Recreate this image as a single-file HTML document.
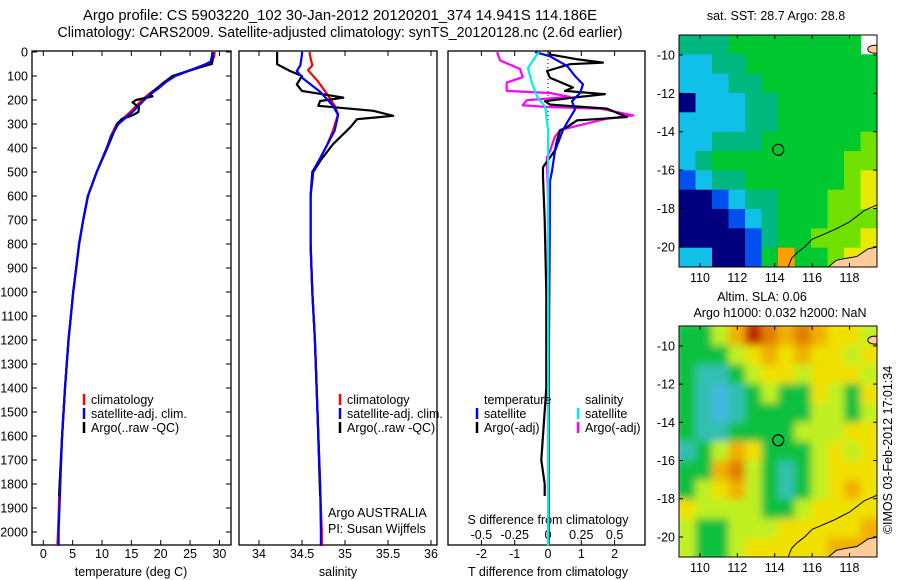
<!DOCTYPE html>
<html><head><meta charset="utf-8"><style>
html,body{margin:0;padding:0;background:#fff;}
svg{display:block;font-family:"Liberation Sans",sans-serif;}
text{font-size:12.5px;fill:#000;}
</style></head><body>
<svg id="fig" width="900" height="580" viewBox="0 0 900 580">
<defs>
<clipPath id="cpSST"><rect x="679" y="35" width="198" height="232"/></clipPath>
<clipPath id="cpSLA"><rect x="679" y="326" width="198" height="231"/></clipPath>
<filter id="blur" x="-10%" y="-10%" width="120%" height="120%"><feGaussianBlur stdDeviation="4"/></filter>
</defs>
<text x="340" y="20" text-anchor="middle" style="font-size:14.5px" textLength="514" lengthAdjust="spacingAndGlyphs">Argo profile: CS 5903220_102 30-Jan-2012 20120201_374 14.941S 114.186E</text>
<text x="340" y="37" text-anchor="middle" style="font-size:14.5px" textLength="565" lengthAdjust="spacingAndGlyphs">Climatology: CARS2009. Satellite-adjusted climatology: synTS_20120128.nc (2.6d earlier)</text>
<text x="776" y="20" text-anchor="middle">sat. SST: 28.7 Argo: 28.8</text>
<text x="762" y="301" text-anchor="middle">Altim. SLA: 0.06</text>
<text x="780" y="317" text-anchor="middle">Argo h1000: 0.032 h2000: NaN</text>
<text transform="translate(892,450) rotate(-90)" text-anchor="middle">©IMOS 03-Feb-2012 17:01:34</text>
<g id="plots"></g>
</svg>
<script>
// ---- depth axis ----
const depthTicks=[0,100,200,300,400,500,600,700,800,900,1000,1100,1200,1300,1400,1500,1600,1700,1800,1900,2000];
// ---- temperature panel ----
const tempTicks=[0,5,10,15,20,25,30];
const tClimDepth=[0,20,40,50,75,100,125,150,175,200,250,300,350,400,500,600,700,800,900,1000,1100,1200,1400,1600,1800,2000,2058];
const tClim=[29.2,29.1,28.6,27.9,25,22.1,20.6,19.4,18,16.8,14.8,12.5,11.5,10.8,9.1,7.6,6.8,6.1,5.6,5.1,4.7,4.3,3.7,3.2,2.8,2.5,2.4];
const tSat=[28.8,28.7,28.5,27.7,25.2,22.5,20.9,19.7,18.3,17.2,15.2,12.8,11.6,10.8,9.1,7.6,6.8,6.1,5.6,5.1,4.7,4.3,3.7,3.2,2.9,2.6,2.6];
const tArgoDepth=[0,20,40,50,60,100,150,175,185,200,210,230,250,265,280,300,400,500,600,700,800,1000,1200,1400,1600,1850];
const tArgo=[28.9,28.9,28.8,28.7,27.2,22,19.4,18.2,18.6,15.8,15.2,16.3,16.2,15.1,13.3,12.6,10.9,9.1,7.6,6.8,6.1,5.1,4.3,3.7,3.2,2.7];
// ---- salinity panel ----
const salTicks=[34,34.5,35,35.5,36];
const sClimDepth=[0,10,56,76,120,180,224,258,327,389,450,500,600,800,1000,1200,1500,1800,2000,2058];
const sClim=[34.59,34.59,34.62,34.57,34.68,34.8,34.88,34.92,34.86,34.79,34.7,34.62,34.6,34.6,34.62,34.65,34.68,34.71,34.73,34.73];
const sSatDepth=[0,10,56,79,110,166,224,262,327,389,450,500,600,800,1000,1200,1500,1800,2000,2058];
const sSat=[34.5,34.5,34.48,34.44,34.51,34.71,34.86,34.92,34.88,34.79,34.7,34.62,34.6,34.6,34.62,34.65,34.68,34.71,34.72,34.72];
const sArgoDepth=[0,51,79,100,135,162,190,204,224,245,266,280,314,384,450,500,600,800,1000,1200,1500,1850];
const sArgo=[34.21,34.21,34.36,34.5,34.44,34.5,34.98,34.71,34.69,35.33,35.56,35.14,35.06,34.86,34.72,34.63,34.6,34.6,34.62,34.65,34.68,34.71];
// ---- difference panel ----
const dtTicks=[-2,-1,0,1,2];
const dsTicks=[-0.5,-0.25,0,0.25,0.5];
const dtSatDepth=[0,18,58,100,135,171,205,240,288,325,412,496,538,800,1200,1600,2000,2058];
const dtSat=[-0.39,0.06,0.57,0.81,1.05,0.96,0.72,0.81,0.6,0.45,0.21,0.12,0.06,0.05,0.03,0.02,0.02,0.02];
const dtArgoDepth=[0,10,31,44,51,79,107,148,162,176,190,205,219,236,271,278,285,313,327,368,410,480,521,700,1000,1400,1700,1800,1850];
const dtArgo=[0.06,0.06,0.9,1.65,0.66,-0.03,0.06,0.75,0.51,1.71,0.75,-0.09,0.06,1.77,2.37,1.65,0.87,0.57,0.36,0.27,0.21,-0.15,-0.15,-0.1,-0.05,-0.05,-0.2,-0.1,-0.1];
const dsSatDepth=[0,4,33,67,130,187,229,325,600,1000,1500,2000,2058];
const dsSat=[-0.075,-0.075,-0.11,-0.15,-0.12,-0.08,-0.02,0,0,0,0,0,0];
const dsArgoDepth=[0,4,35,71,105,127,162,171,187,201,222,229,236,264,278,325,354,412,440,600,900,1200,1500,1850];
const dsArgo=[-0.38,-0.38,-0.36,-0.21,-0.19,-0.31,-0.31,0.015,0.165,-0.16,-0.19,0,0.39,0.64,0.44,0.09,0.05,0.015,-0.01,0,0,0,0,0];
// ---- maps ----
const lonTicks=[110,112,114,116,118];
const latTicks=[-10,-12,-14,-16,-18,-20];
const argoLon=114.186, argoLat=-14.941;
const sstRows=["TTTGGGGGGGG.","CCTTGGGGGGGG","CCCTTGGGGGGG","NCCCTTGGGGGG","CCCCTTGGGGGG","CCTTTGGGGGGL","CTGGGGGGGGLL","BCTTGGGGGGLY","NNBCTTGGGLLY","NNNBCTGGGLLL","NNNNBTGGLLLY","CCNNBGOGGLYY"];
const slaRows=["ggyorOoOoYYy","gggyYoYoYYyY","gccgyYYyYYYy","gclcgyggYygY","gclcggggyygy","gccggggyyyYY","cgyoYgggyYyY","ggoOygcgyYYY","gyYoygcgyYoY","YyyyyggyYYYY","yggyyyYYYYYo","yggyYYYYYooo"];
const coastLon=[119.5,118.8,118,117.2,116.5,116,115.6,115.2,114.9,114.7];
const coastLat=[-17.8,-18.1,-18.7,-19.1,-19.4,-19.6,-20.0,-20.3,-20.6,-21.1];
const landLon=[116.8,117.3,117.8,118.4,119.0,119.5,119.5];
const landLat=[-21.1,-20.7,-20.6,-20.5,-20.1,-20.0,-21.1];

const NS='http://www.w3.org/2000/svg';
const root=document.getElementById('plots');
function mk(tag,attrs,parent){const e=document.createElementNS(NS,tag);for(const k in attrs)e.setAttribute(k,attrs[k]);(parent||root).appendChild(e);return e;}
function txt(x,y,s,anchor,parent){const t=mk('text',{x:x,y:y,'text-anchor':anchor||'middle'},parent);t.textContent=s;return t;}

const yD=d=>52+d*0.24;
const xT=t=>43.3+t*5.87;
const xS=s=>259+(s-34)*86;
const xDT=v=>548+v*33.3;
const xDS=v=>548+v*133.2;
const PT=51,PB=545;

function panel(x0,x1,name){
  const r=mk('rect',{x:x0,y:PT,width:x1-x0,height:PB-PT,fill:'none',stroke:'#000','stroke-width':1.3});
  
  
}
function xticks(vals,fx,labelY,name,top,bottom,fmt){
  const g=mk('g',{});
  
  
  vals.forEach(v=>{const x=fx(v);
    if(top)mk('line',{x1:x,x2:x,y1:PT,y2:PT+5,stroke:'#000','stroke-width':1},g);
    if(bottom)mk('line',{x1:x,x2:x,y1:PB,y2:PB-5,stroke:'#000','stroke-width':1},g);
    txt(x,labelY,fmt?fmt(v):String(v),'middle',g);});
}
function line(depths,vals,fx,color,name,w){
  const p=depths.map((d,i)=>fx(vals[i]).toFixed(1)+','+yD(d).toFixed(1)).join(' ');
  const e=mk('polyline',{points:p,fill:'none',stroke:color,'stroke-width':w||2.2,'stroke-linejoin':'round'});
  
  
}
function legend(x,y,color,label,name){
  const g=mk('g',{});
  
  
  mk('line',{x1:x,x2:x,y1:y-10,y2:y+1,stroke:color,'stroke-width':2.5},g);
  txt(x+7,y,label,'start',g);
}

// panel 1
panel(32,231,'temperature-panel');
const yax=mk('g',{});


depthTicks.forEach(d=>{const y=yD(d);
  mk('line',{x1:32,x2:37,y1:y,y2:y,stroke:'#000'},yax);
  mk('line',{x1:231,x2:226,y1:y,y2:y,stroke:'#000'},yax);
  txt(28,y+4.5,String(d),'end',yax);});
xticks(tempTicks,xT,558,'temperature-x-axis',true,true);
txt(131,576,'temperature (deg C)');
line(tClimDepth,tClim,xT,'#ff0000','temp-climatology-line');
line(tArgoDepth,tArgo,xT,'#000000','temp-argo-line');
line(tClimDepth,tSat,xT,'#0000ff','temp-satellite-line');
legend(84,404,'#ff0000','climatology','legend-climatology');
legend(84,418,'#0000ff','satellite-adj. clim.','legend-satellite-adj');
legend(84,432,'#000000','Argo(..raw -QC)','legend-argo');

// panel 2
panel(239,437,'salinity-panel');
xticks(salTicks,xS,558,'salinity-x-axis',true,true);
txt(338,576,'salinity');
line(sClimDepth,sClim,xS,'#ff0000','sal-climatology-line');
line(sArgoDepth,sArgo,xS,'#000000','sal-argo-line');
line(sSatDepth,sSat,xS,'#0000ff','sal-satellite-line');
legend(340,404,'#ff0000','climatology','legend-sal-climatology');
legend(340,418,'#0000ff','satellite-adj. clim.','legend-sal-satellite-adj');
legend(340,432,'#000000','Argo(..raw -QC)','legend-sal-argo');
txt(328,517,'Argo AUSTRALIA','start');
txt(328,533,'PI: Susan Wijffels','start');

// panel 3
panel(448,645,'difference-panel');
xticks(dtTicks,xDT,558,'t-difference-x-axis',true,true);
const sg=mk('g',{});


dsTicks.forEach(v=>{txt(xDS(v),539,String(v),'middle',sg);});
txt(548,524,'S difference from climatology');
txt(548,576,'T difference from climatology');
mk('line',{x1:548,x2:548,y1:PT,y2:yD(450),stroke:'#000','stroke-dasharray':'1 3'});
line(dsArgoDepth,dsArgo,xDS,'#ff00ff','s-diff-argo-line');
line(dtArgoDepth,dtArgo,xDT,'#000000','t-diff-argo-line');
line(dtSatDepth,dtSat,xDT,'#0000ff','t-diff-satellite-line');
line(dsSatDepth,dsSat,xDS,'#00eeee','s-diff-satellite-line');
txt(484,404,'temperature','start');
txt(585,404,'salinity','start');
legend(477,418,'#0000ff','satellite','legend-t-satellite');
legend(477,432,'#000000','Argo(-adj)','legend-t-argo');
legend(578,418,'#00eeee','satellite','legend-s-satellite');
legend(578,432,'#ff00ff','Argo(-adj)','legend-s-argo');

// maps
const sstCol={N:'#00007f',B:'#0050f0',C:'#10c0e8',T:'#00b880',G:'#00c830',L:'#70e000',Y:'#e8e800',O:'#ffa000'};
const slaCol={g:'#10c040',c:'#30c0b0',l:'#40b8e0',y:'#c0f020',Y:'#f0e000',o:'#f0b000',O:'#e08000',r:'#c02800'};
function map(top,bottom,rows,cols,name,blur,clip){
  const L=679,R=877;
  const lonMin=108.88,lonMax=119.47,latMax=-8.96,latMin=-21.05;
  const mx=lon=>L+(lon-lonMin)/(lonMax-lonMin)*(R-L);
  const my=lat=>top+(latMax-lat)/(latMax-latMin)*(bottom-top);
  const g=mk('g',{'clip-path':'url(#'+clip+')'});
  
  
  const cg=mk('g',blur?{filter:'url(#blur)'}:{},g);
  const nr=rows.length,nc=rows[0].length,cw=(R-L)/nc,ch=(bottom-top)/nr;
  rows.forEach((row,i)=>{[...row].forEach((c,j)=>{ if(cols[c]){
    const cell=mk('rect',{x:(L+j*cw-(blur?4:0)*(j==0)).toFixed(1),y:(top+i*ch-(blur?4:0)*(i==0)).toFixed(1),width:(cw+0.6+(blur?4:0)*(j==0||j==nc-1)).toFixed(1),height:(ch+0.6+(blur?4:0)*(i==0||i==nr-1)).toFixed(1),fill:cols[c]},cg);
    
    }});});
  const land=mk('polygon',{points:landLon.map((lo,i)=>mx(lo)+','+my(landLat[i])).join(' '),fill:'#ffcc99',stroke:'#000','stroke-width':1},g);
  
  
  mk('ellipse',{cx:mx(119.35),cy:my(-9.7),rx:7,ry:4,fill:'#ffcc99',stroke:'#000'},g);
  const cl=mk('polyline',{points:coastLon.map((lo,i)=>mx(lo)+','+my(coastLat[i])).join(' '),fill:'none',stroke:'#000','stroke-width':1},g);
  
  
  const m=mk('circle',{cx:mx(argoLon),cy:my(argoLat),r:5.5,fill:'none',stroke:'#000','stroke-width':1.2});
  
  
  mk('rect',{x:L,y:top,width:R-L,height:bottom-top,fill:'none',stroke:'#000','stroke-width':1});
  const ax=mk('g',{});
  
  
  lonTicks.forEach(lo=>{const x=mx(lo);
    mk('line',{x1:x,x2:x,y1:bottom,y2:bottom-4,stroke:'#000'},ax);
    mk('line',{x1:x,x2:x,y1:top,y2:top+4,stroke:'#000'},ax);
    txt(x,bottom+15,String(lo),'middle',ax);});
  latTicks.forEach(la=>{const y=my(la);
    mk('line',{x1:L,x2:L+4,y1:y,y2:y,stroke:'#000'},ax);
    mk('line',{x1:R,x2:R-4,y1:y,y2:y,stroke:'#000'},ax);
    txt(675,y+4.5,String(la),'end',ax);});
}
map(35,267,sstRows,sstCol,'sst-map',false,'cpSST');
map(326,557,slaRows,slaCol,'sla-map',true,'cpSLA');
</script>
</body></html>
